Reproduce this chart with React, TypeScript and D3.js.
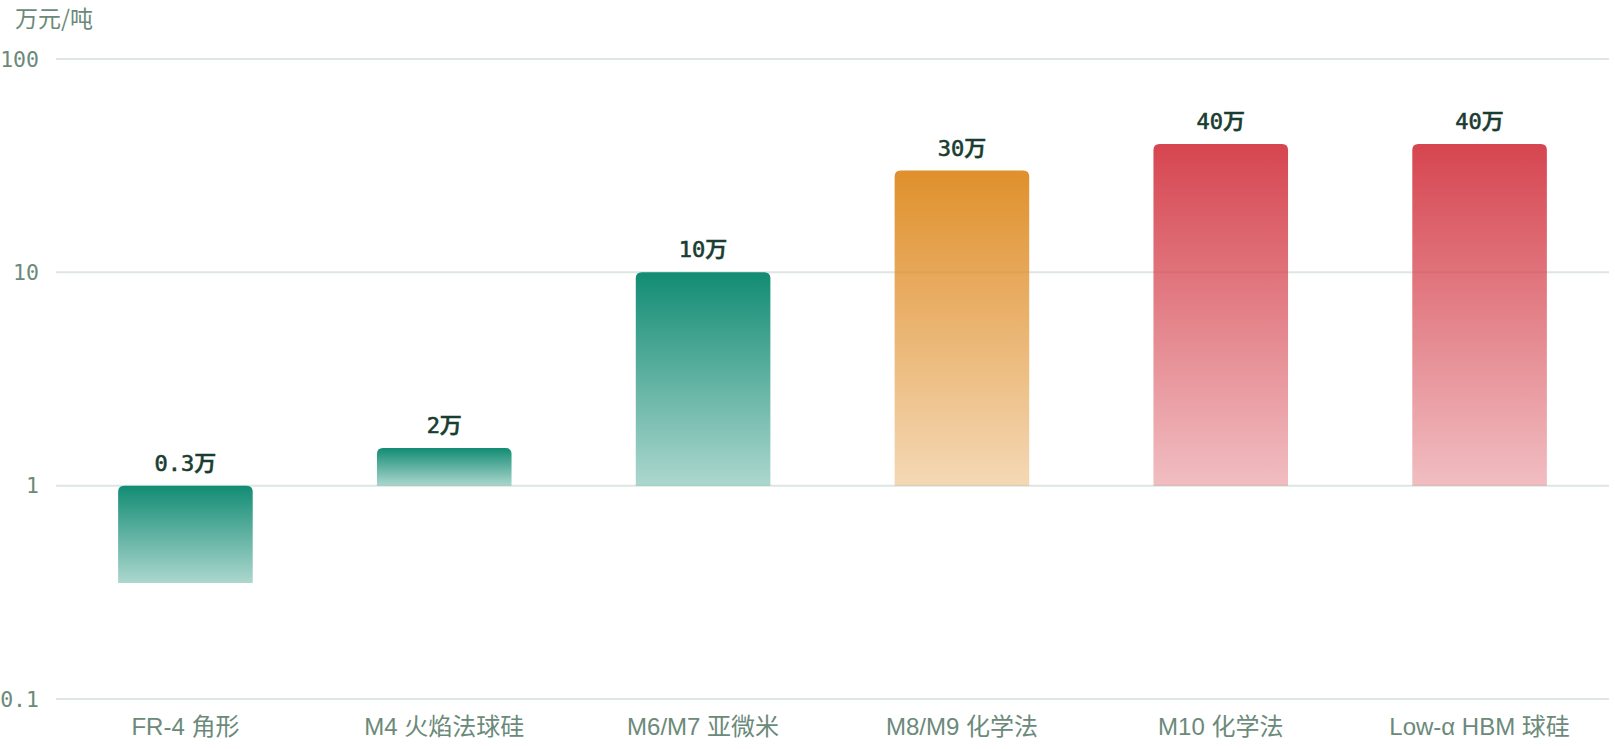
import React from "react";
import * as d3 from "d3";

const categories = ["FR-4 角形", "M4 火焰法球硅", "M6/M7 亚微米", "M8/M9 化学法", "M10 化学法", "Low-α HBM 球硅"];
const values = [0.35, 1.5, 10, 30, 40, 40];
const valueLabels = ["0.3万", "2万", "10万", "30万", "40万", "40万"];
const barColors = ["#128c74", "#128c74", "#128c74", "#e0902c", "#d64550", "#d64550"];
const yTicks = [0.1, 1, 10, 100];
const yTickLabels = ["0.1", "1", "10", "100"];
const unitLabel = "万元/吨";

const W = 1615;
const H = 749;

function topRoundedRect(x: number, y: number, w: number, h: number, r: number) {
  const rr = Math.min(r, h / 2, w / 2);
  return `M${x},${y + h}V${y + rr}Q${x},${y} ${x + rr},${y}H${x + w - rr}Q${x + w},${y} ${x + w},${y + rr}V${y + h}Z`;
}

export default function App() {
  const x = d3.scaleBand<string>().domain(categories).range([56, 1609]).paddingInner(0.48).paddingOuter(0.24);
  const y = d3.scaleLog().domain([0.1, 100]).range([699, 59]);
  const base = y(1);
  const bw = x.bandwidth();

  return (
    <svg width={W} height={H} style={{ position: "absolute", left: 0, top: 0, background: "#fff" }}>
      <defs>
        {barColors.map((c, i) => (
          <linearGradient key={i} id={`g${i}`} x1="0" y1="0" x2="0" y2="1">
            <stop offset="0%" stopColor={c} stopOpacity={1} />
            <stop offset="100%" stopColor={c} stopOpacity={0.35} />
          </linearGradient>
        ))}
      </defs>
      <text x={15} y={27} fontSize={23} fill="#6b8a7a" fontFamily='"Noto Sans CJK SC", sans-serif'>
        {unitLabel}
      </text>
      {yTicks.map((t, i) => (
        <g key={t}>
          <line x1={56} x2={1609} y1={y(t)} y2={y(t)} stroke="#dce7e1" strokeWidth={2} />
          <text
            x={39}
            y={y(t)}
            dy="0.35em"
            textAnchor="end"
            fontSize={21.5}
            fill="#6b8a7a"
            fontFamily='"DejaVu Sans Mono", monospace'
          >
            {yTickLabels[i]}
          </text>
        </g>
      ))}
      {categories.map((c, i) => {
        const v = values[i];
        const top = Math.min(y(v), base);
        const bottom = Math.max(y(v), base);
        const bx = x(c)!;
        return (
          <g key={c}>
            <path d={topRoundedRect(bx, top, bw, bottom - top, 6)} fill={`url(#g${i})`} />
            <text
              x={bx + bw / 2}
              y={top - 15}
              textAnchor="middle"
              fontSize={22}
              fontWeight={500}
              fill="#1a3d31"
              stroke="#1a3d31"
              strokeWidth={0.6}
              fontFamily='"DejaVu Sans Mono", "Noto Sans CJK SC", monospace'
            >
              {valueLabels[i]}
            </text>
            <text
              x={bx + bw / 2}
              y={735}
              textAnchor="middle"
              fontSize={24}
              fill="#6b8a7a"
              fontFamily='"Liberation Sans", "Noto Sans CJK SC", sans-serif'
            >
              {c}
            </text>
          </g>
        );
      })}
    </svg>
  );
}
